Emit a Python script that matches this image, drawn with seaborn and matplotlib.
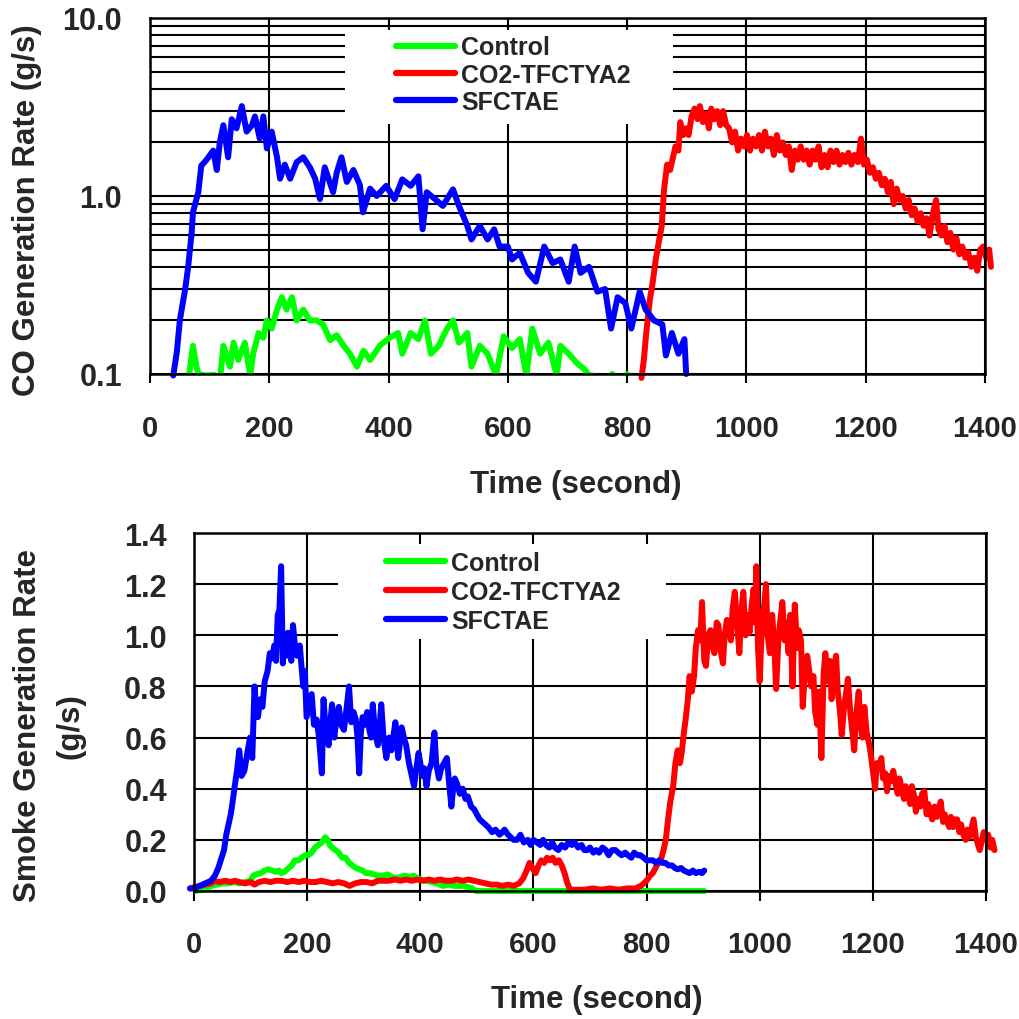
import numpy as np
import pandas as pd
import matplotlib
matplotlib.use("Agg")
import matplotlib.pyplot as plt
from matplotlib.ticker import LogLocator, NullFormatter, FixedLocator
from matplotlib.patches import Rectangle
import seaborn as sns

# ---------------- data: CO generation rate (g/s) ----------------
co_control_t = [64, 72, 78, 81, 95, 107, 117, 123, 134, 140, 148, 159, 168, 173, 182, 190, 196, 204,
                213, 221, 229, 238, 246, 257, 268, 279, 290, 302, 313, 324, 335, 347, 358, 369, 386,
                402, 416, 423, 437, 450, 461, 471, 484, 498, 508, 518, 532, 539, 553, 566, 580, 593,
                607, 620, 631, 641, 654, 668, 682, 688, 702, 716, 729, 736, 743, 763, 775, 790, 800,
                830, 860, 900]
co_control_v = [0.09, 0.144, 0.11, 0.1, 0.098, 0.099, 0.09, 0.144, 0.11, 0.15, 0.12, 0.15, 0.098, 0.13,
                0.17, 0.16, 0.2, 0.18, 0.23, 0.27, 0.23, 0.27, 0.2, 0.23, 0.2, 0.2, 0.19, 0.155, 0.165,
                0.145, 0.13, 0.11, 0.135, 0.12, 0.145, 0.16, 0.17, 0.13, 0.17, 0.157, 0.2, 0.13, 0.144,
                0.18, 0.2, 0.15, 0.17, 0.11, 0.144, 0.13, 0.098, 0.163, 0.14, 0.157, 0.098, 0.18, 0.13,
                0.15, 0.098, 0.144, 0.13, 0.115, 0.106, 0.098, 0.098, 0.09, 0.1, 0.09, 0.1, 0.08, 0.08, 0.08]

co_tfc_t = [824, 828, 832, 838, 843, 848, 853, 858, 862, 867, 872, 876, 881, 886, 889, 894, 898, 903,
            908, 913, 918, 922, 927, 932, 937, 941, 946, 951, 956, 961, 966, 971, 976, 981, 986, 991,
            996, 1001, 1006, 1011, 1016, 1021, 1026, 1031, 1036, 1041, 1046, 1051, 1056, 1061, 1066,
            1071, 1076, 1081, 1086, 1091, 1096, 1101, 1106, 1111, 1116, 1121, 1126, 1131, 1136, 1141,
            1146, 1151, 1156, 1161, 1166, 1171, 1176, 1181, 1187, 1192, 1197, 1202, 1207, 1212, 1217,
            1222, 1227, 1232, 1237, 1242, 1247, 1252, 1257, 1262, 1267, 1272, 1277, 1282, 1287, 1292,
            1297, 1302, 1307, 1312, 1318, 1322, 1327, 1332, 1337, 1342, 1347, 1352, 1357, 1362, 1367,
            1372, 1377, 1382, 1387, 1392, 1397, 1402, 1407, 1410]
co_tfc_v = [0.095, 0.12, 0.17, 0.26, 0.33, 0.44, 0.55, 0.68, 1.1, 1.5, 1.4, 1.6, 1.9, 1.8, 2.6, 2.2,
            2.4, 2.2, 2.8, 3.1, 2.7, 3.2, 2.6, 2.9, 2.4, 3.1, 2.7, 3.0, 2.5, 3.0, 2.5, 2.4, 2.0, 2.3,
            1.8, 2.1, 1.9, 2.2, 1.8, 2.1, 1.9, 2.2, 1.8, 2.3, 1.9, 2.1, 1.7, 2.2, 1.8, 2.0, 1.7, 1.9,
            1.4, 1.8, 1.6, 1.9, 1.6, 1.8, 1.5, 1.8, 1.6, 1.9, 1.45, 1.7, 1.45, 1.8, 1.55, 1.8, 1.5, 1.7,
            1.55, 1.75, 1.5, 1.7, 1.55, 2.1, 1.5, 1.6, 1.35, 1.45, 1.25, 1.35, 1.15, 1.25, 1.05, 1.2,
            0.9, 1.1, 0.95, 1.0, 0.85, 0.95, 0.78, 0.85, 0.72, 0.8, 0.68, 0.75, 0.6, 0.78, 0.95, 0.65,
            0.6, 0.68, 0.55, 0.62, 0.5, 0.58, 0.47, 0.52, 0.45, 0.48, 0.4, 0.45, 0.38, 0.5, 0.52,
            0.45, 0.5, 0.4]

co_sfc_t = [39, 45, 50, 59, 64, 70, 72, 81, 86, 95, 106, 112, 117, 123, 131, 137, 145, 154, 162, 171,
            176, 184, 190, 196, 204, 213, 218, 226, 235, 246, 257, 268, 277, 285, 293, 307, 313, 321,
            330, 341, 352, 357, 369, 380, 396, 410, 423, 437, 450, 457, 464, 478, 491, 508, 518, 532,
            539, 553, 566, 577, 586, 600, 607, 620, 634, 647, 661, 675, 688, 702, 712, 722, 736, 750,
            763, 773, 784, 797, 807, 821, 831, 845, 859, 865, 875, 886, 896, 899]
co_sfc_v = [0.098, 0.133, 0.2, 0.3, 0.4, 0.63, 0.81, 1.05, 1.48, 1.6, 1.8, 1.4, 2.0, 2.5, 1.65, 2.7,
            2.4, 3.2, 2.3, 2.5, 2.8, 2.1, 2.8, 1.85, 2.3, 1.65, 1.25, 1.5, 1.25, 1.55, 1.65, 1.45,
            1.25, 0.96, 1.45, 1.05, 1.35, 1.65, 1.2, 1.4, 1.15, 0.81, 1.1, 1.0, 1.14, 0.96, 1.24,
            1.14, 1.29, 0.65, 1.05, 0.96, 0.88, 1.09, 0.88, 0.68, 0.57, 0.68, 0.57, 0.65, 0.52, 0.52,
            0.44, 0.48, 0.37, 0.33, 0.52, 0.42, 0.44, 0.33, 0.52, 0.37, 0.4, 0.29, 0.3, 0.18, 0.27,
            0.25, 0.18, 0.29, 0.23, 0.2, 0.19, 0.127, 0.17, 0.13, 0.157, 0.1]

# ---------------- data: smoke generation rate (g/s) ----------------
sm_control_t = [4, 10, 20, 30, 40, 50, 60, 70, 80, 90, 100, 105, 110, 118, 125, 131, 138, 145, 150,
                154, 160, 167, 173, 178, 185, 190, 197, 202, 208, 214, 220, 226, 232, 236, 240, 244,
                250, 256, 262, 268, 274, 280, 286, 292, 298, 304, 310, 318, 325, 334, 342, 350, 357,
                365, 372, 380, 388, 395, 402, 410, 420, 430, 440, 450, 460, 470, 476, 485, 492, 498,
                510, 600, 700, 800, 902]
sm_control_v = [0.0, 0.005, 0.01, 0.02, 0.025, 0.03, 0.03, 0.035, 0.03, 0.035, 0.04, 0.06, 0.065, 0.07,
                0.08, 0.085, 0.08, 0.075, 0.08, 0.07, 0.075, 0.09, 0.1, 0.12, 0.12, 0.13, 0.14, 0.14,
                0.15, 0.17, 0.18, 0.19, 0.21, 0.2, 0.18, 0.17, 0.16, 0.15, 0.13, 0.13, 0.11, 0.1, 0.09,
                0.085, 0.08, 0.07, 0.07, 0.065, 0.06, 0.06, 0.065, 0.055, 0.05, 0.055, 0.06, 0.055,
                0.06, 0.05, 0.045, 0.04, 0.035, 0.03, 0.02, 0.025, 0.02, 0.02, 0.02, 0.015, 0.01, 0.0,
                0.0, 0.0, 0.0, 0.0, 0.0]

sm_tfc_t = [-7, 0, 10, 20, 30, 35, 45, 55, 65, 72, 80, 90, 100, 107, 115, 125, 135, 145, 155, 165, 175,
            185, 195, 205, 215, 225, 235, 245, 255, 265, 275, 285, 295, 305, 315, 325, 335, 345, 355,
            365, 375, 385, 395, 405, 415, 425, 435, 445, 455, 465, 475, 485, 495, 505, 515, 525, 535,
            545, 555, 565, 575, 582, 588, 593, 598, 604, 609, 614, 619, 624, 629, 634, 639, 645, 650,
            655, 660, 665, 675, 690, 705, 720, 735, 750, 765, 780, 790, 800, 806, 811, 818, 825, 830,
            834, 838, 842, 847, 851, 855, 859, 862, 866, 869, 873, 876, 880, 884, 887, 891, 895, 898,
            902, 905, 909, 913, 916, 920, 924, 927, 931, 935, 938, 942, 945, 949, 952, 956, 960, 964,
            967, 971, 975, 978, 982, 986, 989, 992, 994, 997, 1000, 1004, 1008, 1011, 1014, 1018,
            1022, 1026, 1029, 1033, 1036, 1040, 1044, 1047, 1051, 1054, 1058, 1062, 1066, 1069, 1073,
            1076, 1080, 1084, 1087, 1091, 1095, 1098, 1102, 1105, 1109, 1113, 1116, 1120, 1124, 1127,
            1131, 1135, 1138, 1142, 1145, 1149, 1153, 1156, 1160, 1164, 1167, 1171, 1175, 1178, 1182,
            1185, 1189, 1193, 1196, 1200, 1204, 1207, 1211, 1215, 1218, 1222, 1225, 1229, 1233, 1236,
            1240, 1244, 1247, 1251, 1255, 1258, 1262, 1266, 1269, 1273, 1276, 1280, 1284, 1287, 1291,
            1295, 1298, 1302, 1305, 1309, 1313, 1316, 1320, 1324, 1327, 1331, 1335, 1338, 1342, 1345,
            1349, 1353, 1356, 1360, 1364, 1367, 1371, 1375, 1378, 1382, 1386, 1389, 1393, 1396, 1400,
            1404, 1408, 1411, 1415]
sm_tfc_v = [0.01, 0.015, 0.02, 0.025, 0.03, 0.04, 0.035, 0.04, 0.035, 0.04, 0.035, 0.03, 0.035, 0.025,
            0.035, 0.04, 0.035, 0.04, 0.04, 0.035, 0.04, 0.035, 0.04, 0.035, 0.035, 0.04, 0.035, 0.03,
            0.035, 0.03, 0.02, 0.03, 0.035, 0.035, 0.03, 0.04, 0.04, 0.04, 0.045, 0.04, 0.045, 0.04,
            0.045, 0.04, 0.045, 0.04, 0.045, 0.04, 0.04, 0.045, 0.04, 0.045, 0.04, 0.035, 0.03, 0.025,
            0.025, 0.02, 0.025, 0.02, 0.03, 0.05, 0.08, 0.11, 0.09, 0.07, 0.1, 0.12, 0.11, 0.13, 0.12,
            0.13, 0.11, 0.12, 0.1, 0.07, 0.03, 0.005, 0.005, 0.005, 0.01, 0.005, 0.01, 0.005, 0.01,
            0.01, 0.02, 0.04, 0.06, 0.07, 0.1, 0.12, 0.16, 0.2, 0.28, 0.35, 0.41, 0.5, 0.55, 0.5, 0.54,
            0.62, 0.67, 0.75, 0.84, 0.78, 0.84, 0.95, 1.02, 0.98, 1.13, 0.9, 0.88, 1.0, 1.02, 0.96,
            0.93, 1.05, 1.04, 0.94, 0.89, 1.0, 1.06, 1.04, 0.98, 1.1, 1.17, 1.05, 0.93, 1.08, 1.17,
            1.0, 1.08, 1.01, 1.12, 1.18, 1.05, 1.27, 0.95, 0.82, 1.05, 1.12, 1.2, 1.0, 0.93, 1.08,
            0.95, 0.79, 0.98, 1.05, 1.13, 0.98, 1.05, 0.93, 1.08, 0.8, 1.12, 0.95, 1.02, 0.98, 0.72,
            0.85, 0.92, 0.87, 0.8, 0.84, 0.7, 0.65, 0.78, 0.52, 0.85, 0.93, 0.82, 0.9, 0.75, 0.86,
            0.92, 0.78, 0.7, 0.61, 0.72, 0.78, 0.83, 0.7, 0.62, 0.55, 0.7, 0.78, 0.65, 0.6, 0.72,
            0.62, 0.58, 0.54, 0.47, 0.4, 0.5, 0.48, 0.52, 0.44, 0.46, 0.39, 0.45, 0.43, 0.47, 0.42,
            0.38, 0.44, 0.4, 0.36, 0.41, 0.38, 0.34, 0.41, 0.37, 0.31, 0.36, 0.33, 0.38, 0.39, 0.3,
            0.34, 0.3, 0.28, 0.33, 0.29, 0.32, 0.35, 0.27, 0.3, 0.27, 0.25, 0.29, 0.25, 0.28, 0.28,
            0.23, 0.26, 0.22, 0.2, 0.24, 0.21, 0.25, 0.28, 0.21, 0.18, 0.16, 0.2, 0.23, 0.2, 0.22,
            0.17, 0.2, 0.16]

sm_sfc_t = [-7, 0, 10, 20, 30, 37, 43, 48, 53, 57, 60, 65, 69, 72, 76, 80, 84, 89, 95, 99, 103, 107,
            110, 113, 117, 121, 125, 130, 134, 138, 142, 145, 148, 151, 154, 157, 160, 163, 166, 169,
            172, 175, 178, 182, 187, 190, 193, 196, 199, 203, 208, 212, 217, 221, 226, 229, 233, 238,
            241, 244, 248, 252, 256, 260, 265, 270, 274, 278, 282, 286, 289, 292, 295, 298, 302, 306,
            310, 313, 316, 320, 325, 328, 331, 335, 340, 345, 349, 352, 356, 361, 364, 367, 371, 375,
            380, 385, 389, 393, 397, 400, 404, 407, 411, 415, 420, 425, 428, 433, 437, 442, 447, 451,
            455, 458, 461, 465, 470, 475, 480, 484, 490, 495, 500, 505, 510, 515, 520, 527, 533, 540,
            545, 549, 555, 560, 565, 571, 577, 583, 590, 595, 600, 606, 612, 617, 622, 628, 633, 638,
            644, 650, 656, 662, 668, 673, 679, 685, 690, 695, 700, 706, 711, 716, 722, 728, 733, 739,
            745, 750, 756, 762, 767, 773, 778, 784, 789, 795, 800, 806, 811, 817, 822, 828, 833, 839,
            845, 850, 855, 861, 866, 871, 876, 882, 887, 893, 898, 902]
sm_sfc_v = [0.01, 0.01, 0.02, 0.03, 0.04, 0.06, 0.09, 0.125, 0.16, 0.22, 0.25, 0.3, 0.36, 0.41, 0.47,
            0.55, 0.45, 0.47, 0.55, 0.6, 0.52, 0.8, 0.7, 0.68, 0.75, 0.72, 0.82, 0.86, 0.93, 0.91,
            0.96, 0.9, 1.08, 1.1, 1.27, 0.89, 1.0, 0.92, 1.01, 0.95, 0.9, 1.04, 0.97, 0.92, 0.96,
            0.88, 0.8, 0.86, 0.68, 0.72, 0.77, 0.65, 0.67, 0.6, 0.46, 0.75, 0.62, 0.57, 0.66, 0.73,
            0.6, 0.68, 0.72, 0.65, 0.63, 0.72, 0.8, 0.66, 0.7, 0.67, 0.6, 0.46, 0.62, 0.68, 0.65,
            0.7, 0.63, 0.6, 0.73, 0.62, 0.57, 0.64, 0.73, 0.6, 0.52, 0.6, 0.55, 0.6, 0.66, 0.52, 0.58,
            0.64, 0.6, 0.57, 0.5, 0.45, 0.41, 0.48, 0.54, 0.5, 0.45, 0.48, 0.41, 0.47, 0.5, 0.62, 0.5,
            0.44, 0.48, 0.5, 0.52, 0.42, 0.33, 0.4, 0.44, 0.42, 0.38, 0.4, 0.36, 0.37, 0.33, 0.32,
            0.3, 0.28, 0.27, 0.26, 0.25, 0.23, 0.24, 0.22, 0.23, 0.24, 0.22, 0.21, 0.2, 0.2, 0.22,
            0.19, 0.2, 0.18, 0.2, 0.19, 0.18, 0.2, 0.18, 0.17, 0.19, 0.17, 0.16, 0.18, 0.17, 0.19,
            0.18, 0.19, 0.17, 0.18, 0.16, 0.16, 0.17, 0.15, 0.16, 0.15, 0.17, 0.16, 0.14, 0.16, 0.16,
            0.15, 0.14, 0.15, 0.14, 0.13, 0.15, 0.14, 0.14, 0.13, 0.12, 0.12, 0.12, 0.11, 0.12, 0.11,
            0.11, 0.1, 0.1, 0.09, 0.085, 0.09, 0.08, 0.075, 0.07, 0.08, 0.07, 0.075, 0.07, 0.08]

series_names = ["Control", "CO2-TFCTYA2", "SFCTAE"]
series_colors = ["#00ff00", "#ff0000", "#0000ff"]
x_ticks = [0, 200, 400, 600, 800, 1000, 1200, 1400]
co_ticks = [0.1, 1.0, 10.0]
co_tick_labels = ["0.1", "1.0", "10.0"]
smoke_ticks = [0.0, 0.2, 0.4, 0.6, 0.8, 1.0, 1.2, 1.4]
smoke_tick_labels = ["0.0", "0.2", "0.4", "0.6", "0.8", "1.0", "1.2", "1.4"]

# ---------------- styling ----------------
sns.set_style("white")
plt.rcParams["font.family"] = ["Liberation Sans", "DejaVu Sans"]
plt.rcParams["font.weight"] = "bold"
plt.rcParams["axes.labelweight"] = "bold"

W, H = 1019, 1020
fig = plt.figure(figsize=(W / 100, H / 100), dpi=100)
fig.patch.set_facecolor("white")

def ax_rect(l, t, r, b):
    return [l / W, 1 - b / H, (r - l) / W, (b - t) / H]

ax1 = fig.add_axes(ax_rect(150, 19, 985, 375))
ax2 = fig.add_axes(ax_rect(194, 534, 986, 892))

LW = 4.3
XTICK_FS = 21
YTICK_FS = 22
LABEL_FS = 22.5
LEG_FS = 18

# ---- top: CO ----
co_sets = [(co_control_t, co_control_v, True), (co_tfc_t, co_tfc_v, False), (co_sfc_t, co_sfc_v, False)]
for (t, v, clip), name, col in zip(co_sets, series_names, series_colors):
    df = pd.DataFrame({"Time": t, "Rate": v})
    sns.lineplot(data=df, x="Time", y="Rate", ax=ax1, color=col, lw=LW, label=name,
                 estimator=None, sort=False, zorder=3, clip_on=clip)
ax1.set_yscale("log")
ax1.set_xlim(0, 1400)
ax1.set_ylim(0.1, 10)
ax1.yaxis.set_major_locator(FixedLocator(co_ticks))
ax1.set_yticklabels(co_tick_labels)
ax1.yaxis.set_minor_locator(LogLocator(base=10, subs=np.arange(2, 10)))
ax1.yaxis.set_minor_formatter(NullFormatter())
ax1.set_xticks(x_ticks)
ax1.set_axisbelow(True)
ax1.grid(True, which="both", axis="y", color="black", lw=1.5)
ax1.grid(True, which="major", axis="x", color="black", lw=1.5)
ax1.add_patch(Rectangle((0.2335, 0.702), 0.393, 0.264, transform=ax1.transAxes,
                        facecolor="white", edgecolor="none", zorder=1))
ax1.set_xlabel("Time (second)", fontsize=LABEL_FS, fontweight="bold")
ax1.set_ylabel("CO Generation Rate (g/s)", fontsize=LABEL_FS, fontweight="bold")
ax1.xaxis.set_label_coords(0.510, -0.309)
ax1.xaxis.label.set_va("center")
ax1.yaxis.set_label_coords(-0.147, 0.4635)
ax1.yaxis.label.set_va("center")
ax1.tick_params(axis="x", which="major", direction="out", length=6.5, width=1.5, pad=22,
                labelsize=XTICK_FS, color="black", bottom=True)
ax1.tick_params(axis="y", which="both", length=0, pad=20, labelsize=YTICK_FS, left=True)

# ---- bottom: smoke ----
sm_sets = [(sm_control_t, sm_control_v), (sm_tfc_t, sm_tfc_v), (sm_sfc_t, sm_sfc_v)]
for (t, v), name, col in zip(sm_sets, series_names, series_colors):
    df = pd.DataFrame({"Time": t, "Rate": v})
    sns.lineplot(data=df, x="Time", y="Rate", ax=ax2, color=col, lw=LW, label=name,
                 estimator=None, sort=False, zorder=3, clip_on=False)
ax2.set_xlim(0, 1400)
ax2.set_ylim(0, 1.4)
ax2.set_xticks(x_ticks)
ax2.set_yticks(smoke_ticks)
ax2.set_yticklabels(smoke_tick_labels)
ax2.set_axisbelow(True)
ax2.grid(True, which="major", axis="both", color="black", lw=1.5)
ax2.add_patch(Rectangle((0.1818, 0.704), 0.414, 0.265, transform=ax2.transAxes,
                        facecolor="white", edgecolor="none", zorder=1))
ax2.set_xlabel("Time (second)", fontsize=LABEL_FS, fontweight="bold")
ax2.set_ylabel("Smoke Generation Rate\n(g/s)", fontsize=LABEL_FS, fontweight="bold",
               linespacing=1.55)
ax2.xaxis.set_label_coords(0.509, -0.302)
ax2.xaxis.label.set_va("center")
ax2.yaxis.set_label_coords(-0.183, 0.464)
ax2.yaxis.label.set_va("center")
ax2.tick_params(axis="x", which="major", direction="out", length=7, width=1.5, pad=21,
                labelsize=XTICK_FS, color="black", bottom=True)
ax2.tick_params(axis="y", which="both", length=0, pad=19.5, labelsize=YTICK_FS, left=True)

for ax in (ax1, ax2):
    for s in ax.spines.values():
        s.set_color("black")
        s.set_linewidth(1.8)
        s.set_visible(True)
        s.set_zorder(4)

# legends
def make_legend(ax, anchor, spacing):
    leg = ax.legend(loc="upper left", bbox_to_anchor=anchor, frameon=False,
                    handlelength=2.35, handletextpad=0.25, labelspacing=spacing, borderpad=0,
                    borderaxespad=0, prop={"weight": "bold", "size": LEG_FS})
    for h in leg.get_lines():
        h.set_linewidth(4.5)
        h.set_solid_capstyle("round")
    leg.set_zorder(5)
    return leg

make_legend(ax1, (0.2946, 0.951), 0.13)
make_legend(ax2, (0.2424, 0.951), 0.2)

fig.savefig("out.png", dpi=100, facecolor="white")
